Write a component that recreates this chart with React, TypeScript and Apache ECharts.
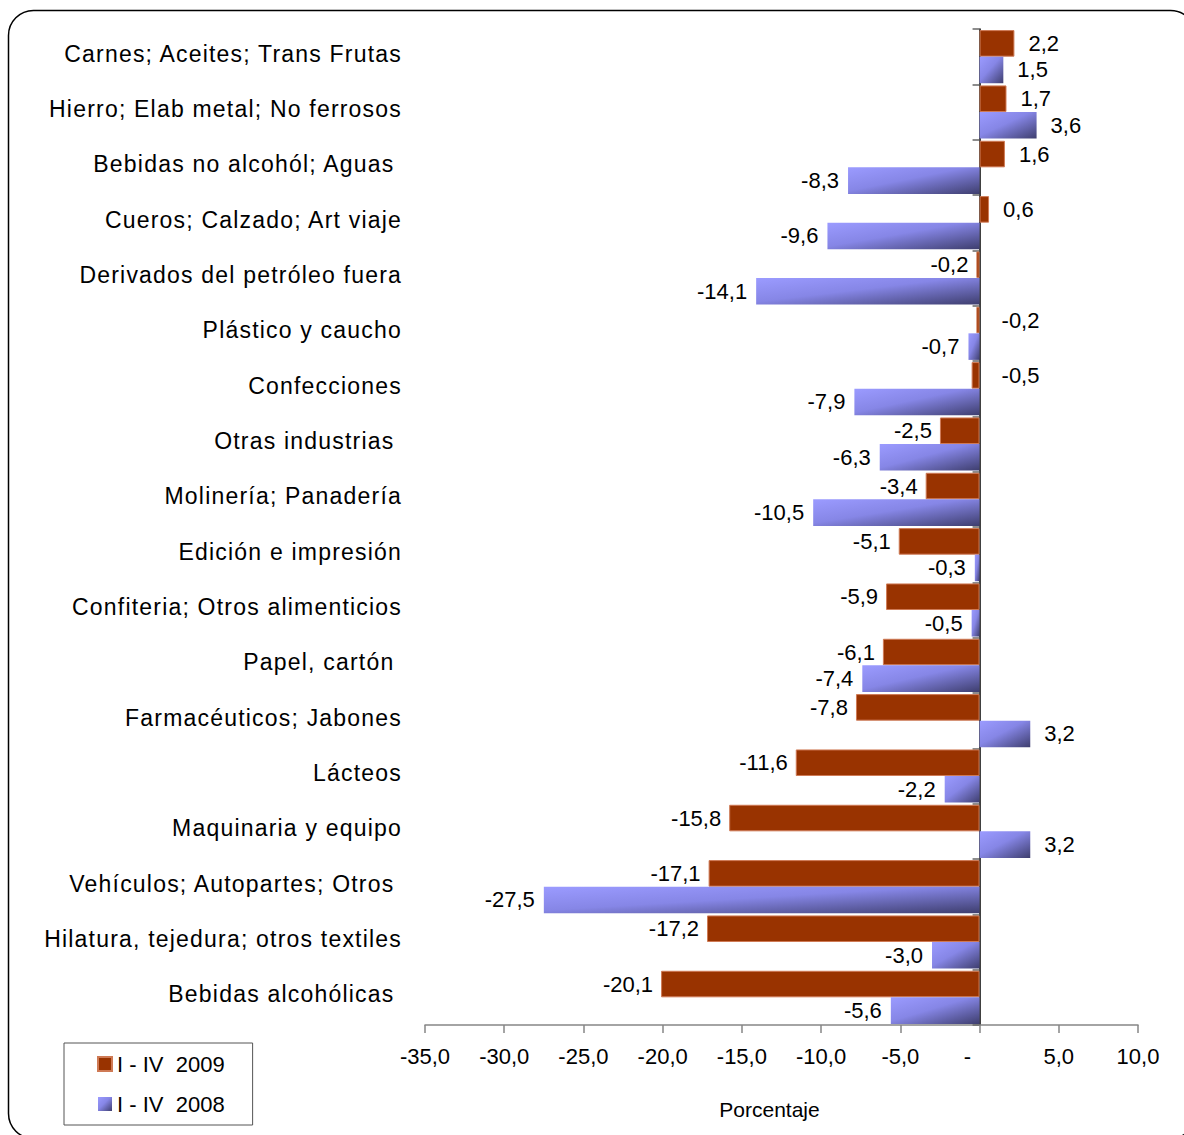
import React, { useEffect, useRef } from "react";
import * as echarts from "echarts";

const categories = [
  "Carnes; Aceites; Trans Frutas",
  "Hierro; Elab metal; No ferrosos",
  "Bebidas no alcohól; Aguas ",
  "Cueros; Calzado; Art viaje",
  "Derivados del petróleo fuera",
  "Plástico y caucho",
  "Confecciones",
  "Otras industrias ",
  "Molinería; Panadería",
  "Edición e impresión",
  "Confiteria; Otros alimenticios",
  "Papel, cartón ",
  "Farmacéuticos; Jabones",
  "Lácteos",
  "Maquinaria y equipo",
  "Vehículos; Autopartes; Otros ",
  "Hilatura, tejedura; otros textiles",
  "Bebidas alcohólicas ",
];

const values2009 = [2.2, 1.7, 1.6, 0.6, -0.2, -0.2, -0.5, -2.5, -3.4, -5.1, -5.9, -6.1, -7.8, -11.6, -15.8, -17.1, -17.2, -20.1];
const values2008 = [1.5, 3.6, -8.3, -9.6, -14.1, -0.7, -7.9, -6.3, -10.5, -0.3, -0.5, -7.4, 3.2, -2.2, 3.2, -27.5, -3.0, -5.6];

const seriesNames = ["I - IV  2009", "I - IV  2008"];

const xMin = -35;
const xMax = 10;
const xStep = 5;

// indices of 2009 labels that sit right of the axis although the value is negative
const redLabelsOnRight = new Set([5, 6]);

const FONT = "'Liberation Sans', Arial, sans-serif";
// same face; the extra (missing) first family only tags these texts for the letter-spacing rule
const CAT_FONT = "Arimo, 'Liberation Sans', Arial, sans-serif";

const fmt = (v: number) => v.toFixed(1).replace(".", ",");

function makeLabel(v: number, forceRight: boolean, negDist: number) {
  if (v >= 0) return { position: "right", distance: 14 };
  if (forceRight) return { position: "right", distance: 22 };
  return { position: "left", distance: negDist };
}

export default function App() {
  const ref = useRef<HTMLDivElement>(null);

  useEffect(() => {
    if (!ref.current) return;
    const chart = echarts.init(ref.current, undefined, { renderer: "svg" });

    const blueGradient = new echarts.graphic.LinearGradient(0, 0, 1, 1, [
      { offset: 0, color: "#9b9bff" },
      { offset: 0.45, color: "#8686e6" },
      { offset: 1, color: "#3e3e6e" },
    ]);

    const labelBase = {
      show: true,
      fontSize: 22,
      color: "#000",
      fontFamily: FONT,
      formatter: (p: any) => fmt(p.value),
    };

    const option: any = {
      animation: false,
      backgroundColor: "#fff",
      textStyle: { fontFamily: FONT },
      grid: { left: 425, right: 46, top: 29, bottom: 110, containLabel: false },
      legend: {
        orient: "vertical",
        left: 64,
        top: 1043,
        padding: [10, 28, 10, 33],
        itemGap: 18,
        itemWidth: 14,
        itemHeight: 14,
        icon: "rect",
        borderColor: "#555",
        borderWidth: 1,
        textStyle: { fontSize: 22, color: "#000", fontFamily: FONT },
        data: seriesNames,
      },
      xAxis: {
        type: "value",
        min: xMin,
        max: xMax,
        interval: xStep,
        splitLine: { show: false },
        axisLine: { show: true, lineStyle: { color: "#868686", width: 1.5 } },
        axisTick: { show: true, length: 8, lineStyle: { color: "#868686", width: 1.5 } },
        axisLabel: {
          fontSize: 22,
          color: "#000",
          fontFamily: FONT,
          margin: 20,
          formatter: (v: number) => (v === 0 ? "-    " : fmt(v)),
        },
        name: "Porcentaje",
        nameLocation: "middle",
        nameGap: 74,
        nameTextStyle: { fontSize: 21, color: "#000", fontFamily: FONT, padding: [0, 24, 0, 0] },
      },
      yAxis: [
        {
          type: "category",
          data: categories,
          inverse: true,
          position: "left",
          axisLine: { show: false, onZero: false },
          axisTick: { show: false },
          axisLabel: {
            margin: 23,
            formatter: "{c|{value}}",
            rich: {
              c: {
                fontSize: 23,
                color: "#000",
                fontFamily: CAT_FONT,
                padding: [0, 0, 6, 0],
              },
            },
          },
        },
        {
          type: "category",
          data: categories,
          inverse: true,
          position: "left",
          axisLine: { show: true, onZero: true, lineStyle: { color: "#000", width: 1.5 } },
          axisTick: { show: true, length: 7, lineStyle: { color: "#666", width: 1.5 } },
          axisLabel: { show: false },
        },
      ],
      series: [
        {
          name: seriesNames[0],
          type: "bar",
          yAxisIndex: 0,
          barGap: "0%",
          barCategoryGap: "4%",
          itemStyle: { color: "#993300", borderColor: "#cf7a55", borderWidth: 1 },
          label: labelBase,
          data: values2009.map((v, i) => ({
            value: v,
            label: makeLabel(v, redLabelsOnRight.has(i), 8),
          })),
        },
        {
          name: seriesNames[1],
          type: "bar",
          yAxisIndex: 0,
          barGap: "0%",
          barCategoryGap: "4%",
          itemStyle: { color: blueGradient },
          label: labelBase,
          data: values2008.map((v) => ({
            value: v,
            label: makeLabel(v, false, 9),
          })),
        },
      ],
      graphic: [
        {
          type: "rect",
          silent: true,
          z: 100,
          shape: { x: 8.5, y: 10.5, width: 1187, height: 1128, r: 25 },
          style: { fill: "none", stroke: "#000", lineWidth: 1.5 },
        },
      ],
    };

    chart.setOption(option);
    return () => chart.dispose();
  }, []);

  return (
    <>
      <style>{`text[style*="Arimo"]{letter-spacing:1.2px;}`}</style>
      <div
        ref={ref}
        style={{ position: "absolute", left: 0, top: 0, width: 1184, height: 1135 }}
      />
    </>
  );
}
